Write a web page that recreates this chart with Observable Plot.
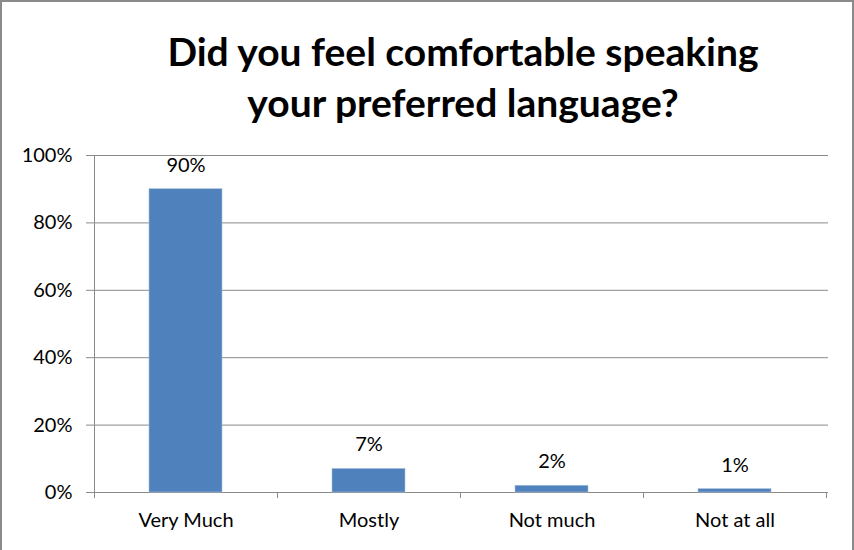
<!DOCTYPE html>
<html>
<head>
<meta charset="utf-8">
<script src="https://cdn.jsdelivr.net/npm/d3@7"></script>
<script src="https://cdn.jsdelivr.net/npm/@observablehq/plot@0.6"></script>
<style>
  html, body { margin: 0; padding: 0; background: #fff; }
  #wrap { position: relative; width: 854px; height: 550px; overflow: hidden; }
  #frame { position: absolute; left: 0; top: 0; width: 850px; height: 560px;
           border: 2px solid #8a8a8a; border-bottom: none; box-sizing: content-box; pointer-events: none; }
  #title { position: absolute; left: 0; top: 26px; width: 926px; text-align: center;
           font-family: Lato, "Open Sans", sans-serif; font-weight: bold; font-size: 39px;
           line-height: 51px; color: #000; }
  #chart { position: absolute; left: 0; top: 0; }
  #chart svg { font-family: Lato, "Open Sans", sans-serif; }
</style>
</head>
<body>
<div id="wrap">
  <div id="chart"></div>
  <div id="title">Did you feel comfortable speaking<br>your preferred language?</div>
  <div id="frame"></div>
</div>
<script>
const categories = ["Very Much", "Mostly", "Not much", "Not at all"];
const values = [90, 7, 2, 1];
const yTicks = [0, 20, 40, 60, 80, 100];

const data = categories.map((c, i) => ({category: c, value: values[i]}));

// left axis line and separators between categories, drawn from the scales
function axisLines() {
  return (index, scales, vals, dims) => {
    const x = scales.x, y = scales.y;
    const step = x.step();
    const x0 = x(categories[0]) - step * 0.3;
    const g = d3.create("svg:g").attr("stroke", "#8a8a8a").attr("stroke-width", 1);
    const y0 = y(0);
    const xl = Math.round(x0) + 0.5;
    g.append("line").attr("x1", xl).attr("x2", xl).attr("y1", y(100)).attr("y2", y0);
    for (let i = 0; i <= categories.length; i++) {
      const xx = Math.round(x0 + i * step) + 0.5;
      g.append("line").attr("x1", xx).attr("x2", xx).attr("y1", y0).attr("y2", y0 + 6);
    }
    return g.node();
  };
}

const chart = Plot.plot({
  width: 854,
  height: 550,
  marginLeft: 93,
  marginRight: 26,
  marginTop: 155,
  marginBottom: 58,
  style: {fontSize: "20px", color: "#000", background: "transparent"},
  x: {domain: categories, paddingInner: 0.6, paddingOuter: 0.3, label: null},
  y: {domain: [0, 100], label: null},
  marks: [
    Plot.gridY(yTicks, {stroke: "#8a8a8a", strokeOpacity: 1, strokeWidth: 1}),
    Plot.axisY(yTicks, {tickFormat: d => d + "%", tickSize: 7, tickPadding: 14, stroke: "#8a8a8a", fill: "#000", fontSize: 20, label: null}),
    Plot.axisX({tickSize: 0, tickPadding: 20, fill: "#000", fontSize: 20, label: null}),
    Plot.barY(data, {x: "category", y: "value", fill: "#4f81bd", stroke: "#a7c0de", strokeWidth: 0.6}),
    Plot.text(data, {x: "category", y: "value", text: d => d.value + "%", dy: -24, fill: "#000", fontSize: 20}),
    axisLines()
  ]
});
document.getElementById("chart").appendChild(chart);
</script>
</body>
</html>
